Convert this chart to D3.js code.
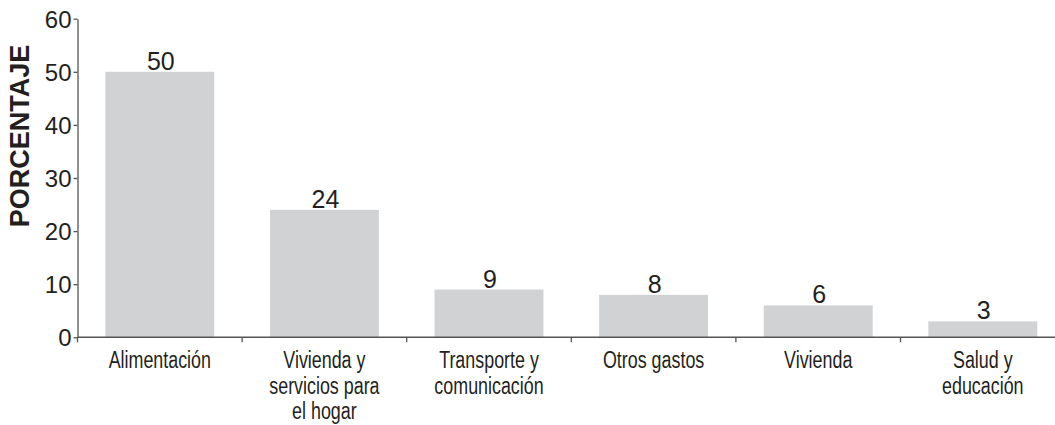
<!DOCTYPE html>
<html>
<head>
<meta charset="utf-8">
<script src="https://cdn.jsdelivr.net/npm/d3@7"></script>
<style>
  html, body { margin: 0; padding: 0; background: #fff; }
  svg { display: block; }
</style>
</head>
<body>
<svg id="chart" width="1055" height="425"></svg>
<script>
const categories = ["Alimentación", "Vivienda y servicios para el hogar", "Transporte y comunicación", "Otros gastos", "Vivienda", "Salud y educación"];
const categoryLines = [["Alimentación"], ["Vivienda y", "servicios para", "el hogar"], ["Transporte y", "comunicación"], ["Otros gastos"], ["Vivienda"], ["Salud y", "educación"]];
const values = [50, 24, 9, 8, 6, 3];
const yTicks = [0, 10, 20, 30, 40, 50, 60];
const yTitle = "PORCENTAJE";

const svg = d3.select("#chart");
const x0 = 77.5, step = 164.6;
const x = d3.scaleBand().domain(categories).range([x0, x0 + step * categories.length]).paddingInner(0.338).paddingOuter(0.169);
const y = d3.scaleLinear().domain([0, 60]).range([337.3, 18.7]);

const textColor = "#231f20";
const axisColor = "#555";

// bars
svg.selectAll("rect.bar").data(values).join("rect")
  .attr("class", "bar")
  .attr("x", (d, i) => x(categories[i]))
  .attr("width", x.bandwidth())
  .attr("y", d => y(d))
  .attr("height", d => y(0) - y(d))
  .attr("fill", "#d1d2d4");

// value labels
svg.selectAll("text.val").data(values).join("text")
  .attr("class", "val")
  .attr("x", (d, i) => x(categories[i]) + x.bandwidth() / 2 + 1)
  .attr("y", d => y(d) - 2)
  .attr("text-anchor", "middle")
  .attr("font-family", "Liberation Sans, Arial, sans-serif")
  .attr("font-size", 25)
  .attr("fill", textColor)
  .text(d => d);

// y axis
const yAxis = d3.axisLeft(y).tickValues(yTicks).tickSize(4).tickPadding(2).tickSizeOuter(0);
const gy = svg.append("g").attr("transform", `translate(${x0},0)`).call(yAxis);
gy.select(".domain").attr("stroke", axisColor).attr("stroke-width", 1.3);
gy.selectAll(".tick line").attr("stroke", axisColor).attr("stroke-width", 1.3);
gy.selectAll(".tick text")
  .attr("font-family", "Liberation Sans, Arial, sans-serif")
  .attr("font-size", 24)
  .attr("fill", textColor)
  .attr("dy", "0.36em");

// x axis line
svg.append("line")
  .attr("x1", x0).attr("x2", 1055)
  .attr("y1", y(0)).attr("y2", y(0))
  .attr("stroke", axisColor).attr("stroke-width", 1.6);

// x ticks at band boundaries
const gap = (x.step() - x.bandwidth()) / 2;
svg.selectAll("line.xt").data(categories).join("line")
  .attr("class", "xt")
  .attr("x1", d => x(d) - gap).attr("x2", d => x(d) - gap)
  .attr("y1", y(0)).attr("y2", y(0) + 5)
  .attr("stroke", axisColor).attr("stroke-width", 1.3);

// category labels (condensed via horizontal scale)
const lab = svg.selectAll("text.cat").data(categoryLines).join("text")
  .attr("class", "cat")
  .attr("text-anchor", "middle")
  .attr("transform", (lines, i) => `translate(${x(categories[i]) + x.bandwidth() / 2},0) scale(0.73,1)`)
  .attr("font-family", "Liberation Sans, Arial, sans-serif")
  .attr("font-size", 24.5)
  .attr("fill", textColor);
lab.each(function(lines) {
  d3.select(this).selectAll("tspan").data(lines).join("tspan")
    .attr("x", 0)
    .attr("y", (l, j) => 368.5 + j * 25.5)
    .text(l => l);
});

// y title
svg.append("text")
  .attr("transform", "translate(29,136) rotate(-90)")
  .attr("text-anchor", "middle")
  .attr("font-family", "Liberation Sans, Arial, sans-serif")
  .attr("font-weight", "bold")
  .attr("font-size", 27)
  .attr("fill", textColor)
  .text(yTitle);
</script>
</body>
</html>
